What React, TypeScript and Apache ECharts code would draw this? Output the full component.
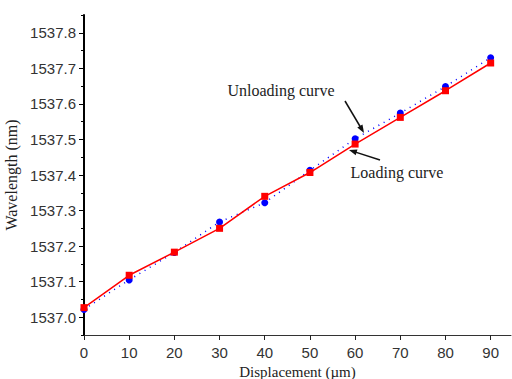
import React, { useEffect, useRef } from "react";
import * as echarts from "echarts";

const displacement = [0, 10, 20, 30, 40, 50, 60, 70, 80, 90];
const loadingCurve = [1537.027, 1537.118, 1537.183, 1537.25, 1537.34, 1537.407, 1537.487, 1537.562, 1537.637, 1537.715];
const unloadingCurve = [1537.022, 1537.105, 1537.182, 1537.268, 1537.322, 1537.413, 1537.502, 1537.574, 1537.649, 1537.73];
const yMajorTicks = [1537.0, 1537.1, 1537.2, 1537.3, 1537.4, 1537.5, 1537.6, 1537.7, 1537.8];
const yMinorTicks = [1536.95, 1537.05, 1537.15, 1537.25, 1537.35, 1537.45, 1537.55, 1537.65, 1537.75, 1537.85];
const xTicks = [0, 10, 20, 30, 40, 50, 60, 70, 80, 90];

const SERIF = "'Liberation Serif', 'Times New Roman', serif";
const SANS = "'Liberation Sans', Arial, sans-serif";

export default function App() {
  const ref = useRef<HTMLDivElement>(null);
  useEffect(() => {
    document.body.style.margin = "0";
    const chart = echarts.init(ref.current!, null, { renderer: "svg" });
    const pair = (ys: number[]) => displacement.map((x, i) => [x, ys[i]]);
    chart.setOption({
      animation: false,
      backgroundColor: "#fff",
      grid: { left: 84, right: 1, top: 15, bottom: 44, containLabel: false, outerBoundsMode: "none" },
      xAxis: {
        type: "value",
        min: 0,
        max: 94.5,
        name: "Displacement (\u00b5m)",
        nameLocation: "middle",
        nameGap: 25,
        nameTextStyle: { fontFamily: SERIF, fontSize: 15, color: "#222", lineHeight: 15 },
        axisLine: { show: true, onZero: false, lineStyle: { color: "#333", width: 1 } },
        axisTick: { show: true, customValues: xTicks, length: 5, lineStyle: { color: "#222" } },
        axisLabel: { customValues: xTicks, fontFamily: SANS, fontSize: 15, color: "#333", margin: 10 },
        splitLine: { show: false },
      },
      yAxis: [
        {
          type: "value",
          min: 1536.95,
          max: 1537.85,
          name: "Wavelength (nm)",
          nameLocation: "middle",
          nameGap: 58,
          nameRotate: 90,
          nameTextStyle: { fontFamily: SERIF, fontSize: 16, color: "#222" },
          axisLine: { show: true, onZero: false, lineStyle: { color: "#000", width: 2 } },
          axisTick: { show: true, customValues: yMajorTicks, length: 5, lineStyle: { color: "#000" } },
          axisLabel: {
            customValues: yMajorTicks,
            fontFamily: SANS,
            fontSize: 15,
            color: "#333",
            margin: 8,
            formatter: (v: number) => v.toFixed(1),
          },
          splitLine: { show: false },
        },
        {
          type: "value",
          min: 1536.95,
          max: 1537.85,
          position: "left",
          axisLine: { show: false },
          axisTick: { show: true, customValues: yMinorTicks, length: 3, lineStyle: { color: "#000" } },
          axisLabel: { show: false },
          splitLine: { show: false },
        },
      ],
      series: [
        {
          name: "Unloading curve",
          type: "line",
          data: pair(unloadingCurve),
          symbol: "circle",
          symbolSize: 7,
          itemStyle: { color: "#0000ff" },
          lineStyle: { color: "#0000ff", width: 1.5, type: [1, 5] },
          z: 2,
        },
        {
          name: "Loading curve",
          type: "line",
          data: pair(loadingCurve),
          symbol: "rect",
          symbolSize: 7,
          itemStyle: { color: "#ff0000" },
          lineStyle: { color: "#ff0000", width: 1.5 },
          z: 3,
        },
      ],
      graphic: [
        {
          type: "text",
          x: 281,
          y: 90,
          style: { text: "Unloading curve", font: `16px ${SERIF}`, fill: "#222", align: "center", verticalAlign: "middle" },
        },
        {
          type: "text",
          x: 397,
          y: 172,
          style: { text: "Loading curve", font: `16px ${SERIF}`, fill: "#222", align: "center", verticalAlign: "middle" },
        },
        { type: "line", shape: { x1: 345, y1: 101, x2: 361, y2: 128 }, style: { stroke: "#111", lineWidth: 1.5 } },
        { type: "polygon", shape: { points: [[364, 133], [357.3, 127.6], [362.5, 124.6]] }, style: { fill: "#111" } },
        { type: "line", shape: { x1: 380, y1: 160, x2: 354, y2: 151.6 }, style: { stroke: "#111", lineWidth: 1.5 } },
        { type: "polygon", shape: { points: [[349, 150], [357.5, 149.6], [355.7, 155.3]] }, style: { fill: "#111" } },
      ],
    });
    return () => chart.dispose();
  }, []);
  return <div ref={ref} style={{ width: 512, height: 379 }} />;
}
